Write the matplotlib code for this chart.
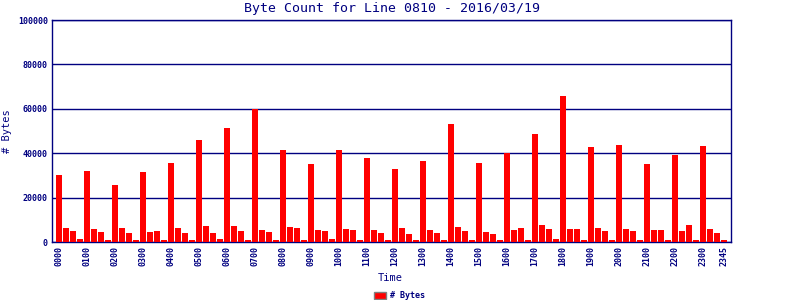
import matplotlib
matplotlib.use("Agg")
import matplotlib.pyplot as plt
from matplotlib.patches import Rectangle

# Byte counts per 15-minute interval (00:00 .. 23:45)
hours = ["%02d00" % h for h in range(24)]
bytes_00_05 = [30100, 6500, 5050, 1150,
               31900, 5950, 4600, 700,
               25650, 6400, 4150, 700,
               31450, 4600, 5050, 700,
               35500, 6400, 4150, 700,
               46000, 7300, 4150, 1150]
bytes_06_11 = [51400, 7300, 5050, 700,
               59800, 5500, 4600, 700,
               41500, 6850, 6400, 700,
               35200, 5500, 5050, 1150,
               41500, 5950, 5500, 700,
               37900, 5500, 4150, 1000]
bytes_12_17 = [32900, 6400, 3700, 1000,
               36500, 5500, 4150, 700,
               53200, 6850, 5050, 700,
               35600, 4600, 3700, 700,
               40000, 5500, 6400, 700,
               48700, 7800, 5950, 1500]
bytes_18_23 = [65800, 5950, 5950, 700,
               42800, 6400, 5050, 700,
               43700, 5950, 5050, 1000,
               35200, 5500, 5500, 700,
               39200, 5050, 7800, 700,
               43300, 5950, 4150, 700]
values = bytes_00_05 + bytes_06_11 + bytes_12_17 + bytes_18_23
tick_labels = hours + ["2345"]
tick_pos = [i * 4 for i in range(24)] + [95]
y_ticks = [0, 20000, 40000, 60000, 80000, 100000]

NAVY = "#000080"
MONO = "DejaVu Sans Mono"

fig = plt.figure(figsize=(8, 3), dpi=100)
ax = fig.add_axes([52 / 800, 58 / 300, 679 / 800, 222 / 300])

x = list(range(len(values)))
ax.bar(x, values, width=0.82, color="#ff0000", zorder=3, label="# Bytes")

ax.set_xlim(-1, 96)
ax.set_ylim(0, 100000)
ax.set_yticks(y_ticks)
ax.set_yticklabels([str(v) for v in y_ticks], fontfamily=MONO, fontsize=6,
                   fontweight="bold", color=NAVY)
ax.set_xticks(tick_pos)
ax.set_xticklabels(tick_labels, rotation=90, fontfamily=MONO, fontsize=6,
                   fontweight="bold", color=NAVY)
ax.tick_params(axis="both", length=0, pad=3)
ax.grid(axis="y", color=NAVY, linewidth=1.0, zorder=1)
for s in ax.spines.values():
    s.set_color(NAVY)
    s.set_linewidth(1.0)

ax.set_title("Byte Count for Line 0810 - 2016/03/19", fontfamily=MONO,
             fontsize=9.5, color=NAVY, pad=6)
ax.set_ylabel("# Bytes", fontfamily=MONO, fontsize=7.5, color=NAVY, labelpad=4)
fig.text(390 / 800, 1 - 278 / 300, "Time", fontfamily=MONO, fontsize=7.5,
         color=NAVY, ha="center", va="center")

# legend
fig.patches.append(Rectangle((374 / 800, 1 - 299 / 300), 12 / 800, 7 / 300,
                             transform=fig.transFigure, facecolor="#ff0000",
                             edgecolor="#808080", linewidth=1.0))
fig.text(390 / 800, 1 - 295.5 / 300, "# Bytes", fontfamily=MONO, fontsize=6,
         fontweight="bold", color=NAVY, ha="left", va="center")

fig.savefig("out.png", dpi=100, facecolor="white")
